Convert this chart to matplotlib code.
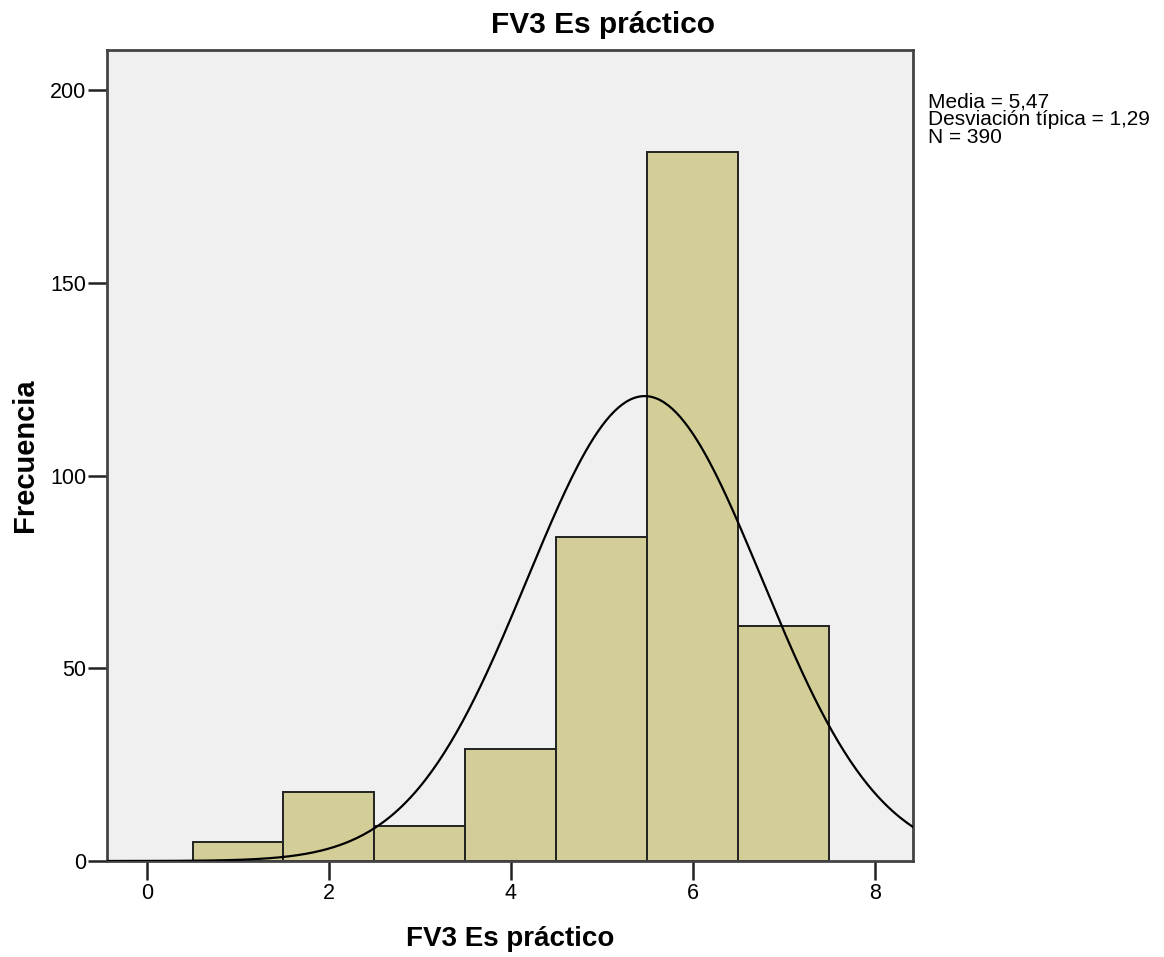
import numpy as np
import matplotlib
matplotlib.use('Agg')
import matplotlib.pyplot as plt

# frequencies per response value (1..7)
valores = [1, 2, 3, 4, 5, 6, 7]
frecuencias = [5, 18, 9, 29, 84, 184, 61]
media = 5.47
desviacion = 1.29
n_total = 390

titulo = 'FV3 Es práctico'
xticks = [0, 2, 4, 6, 8]
yticks = [0, 50, 100, 150, 200]

dpi = 100.
plt.rcParams.update({'figure.dpi': dpi,
                     'font.family': ['Liberation Sans', 'DejaVu Sans'],
                     'font.size': 15})

fig = plt.figure(figsize=(1164/dpi, 957/dpi))
ax = fig.add_axes([107/1164, 96/957, 806/1164, 811/957])
ax.set_facecolor('#f0f0f0')

ax.bar(valores, frecuencias, width=1.0, color='#d3ce97',
       edgecolor='#222222', linewidth=1.4, zorder=2)

# normal curve scaled to counts (bin width 1)
xs = np.linspace(-0.44, 8.42, 400)
ys = n_total / (desviacion*np.sqrt(2*np.pi)) * np.exp(-0.5*((xs - media)/desviacion)**2)
ax.plot(xs, ys, color='black', linewidth=1.6, zorder=3)

ax.set_xlim(-0.44, 8.42)
ax.set_ylim(0, 210.4)
ax.set_xticks(xticks)
ax.set_yticks(yticks)
ax.tick_params(direction='out', length=14, width=1.8, color='#222222',
               labelsize=15.5)
ax.tick_params(axis='y', pad=1)
ax.tick_params(axis='x', pad=2)
for s in ax.spines.values():
    s.set_linewidth(2)
    s.set_color('#444444')

ax.set_xlabel(titulo, fontsize=20, fontweight='bold', va='center')
ax.xaxis.set_label_coords(0.5, -(939 - 861)/811)
ax.set_ylabel('Frecuencia', fontsize=21, fontweight='bold', va='center')
ax.yaxis.set_label_coords(-(107 - 25)/806, 0.5)
fig.text(603/1164, 1 - 25/957, titulo, fontsize=21.5, fontweight='bold',
         ha='center', va='center')

stats = ('Media = %s\nDesviación típica = %s\nN = %d'
         % (f'{media:.2f}'.replace('.', ','), f'{desviacion:.2f}'.replace('.', ','), n_total))
fig.text(928/1164, 1 - 92/957, stats, fontsize=15, ha='left', va='top',
         linespacing=0.92)

fig.savefig('out.png', dpi=dpi)
